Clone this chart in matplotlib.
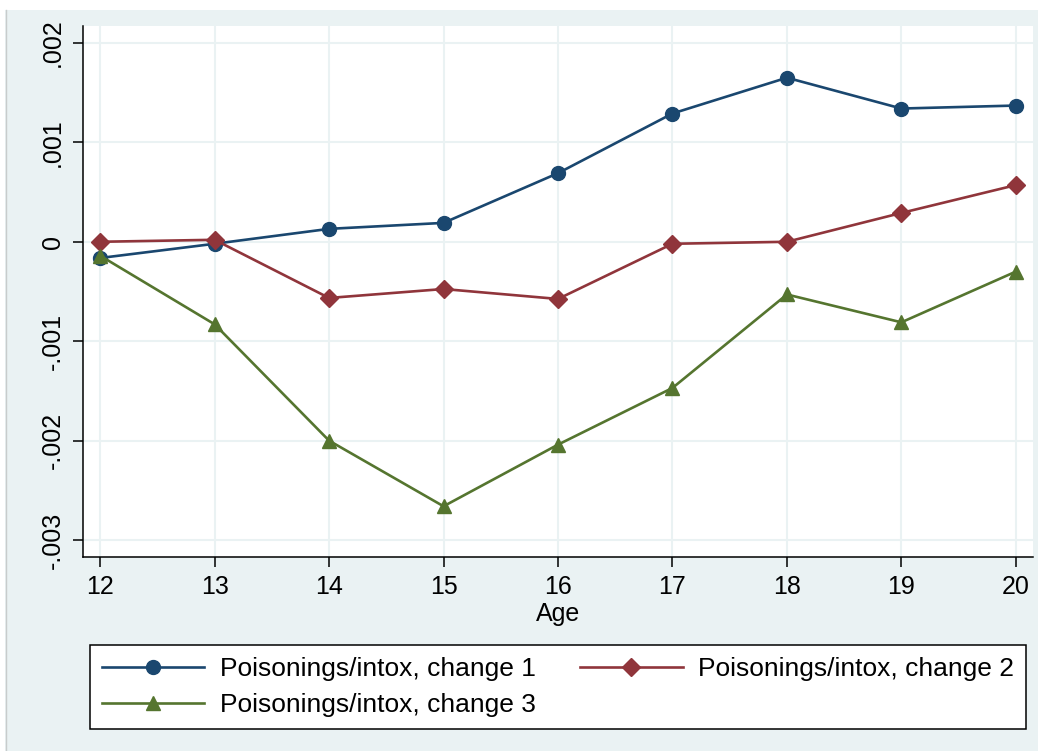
import numpy as np
import matplotlib.pyplot as plt
from matplotlib.patches import Rectangle

plt.rcParams['font.family'] = ['Liberation Sans', 'DejaVu Sans']

ages = [12, 13, 14, 15, 16, 17, 18, 19, 20]
change1 = [-0.000163, -0.00002, 0.00013, 0.00019, 0.00069, 0.00129, 0.00165, 0.00134, 0.00137]
change2 = [0.0, 0.00002, -0.000565, -0.000475, -0.000575, -0.00002, 0.0, 0.00029, 0.00057]
change3 = [-0.00014, -0.00083, -0.0020, -0.00266, -0.00204, -0.00147, -0.00053, -0.00081, -0.00030]
labels = ['Poisonings/intox, change 1', 'Poisonings/intox, change 2', 'Poisonings/intox, change 3']
yticks = [-0.003, -0.002, -0.001, 0, 0.001, 0.002]
ytick_labels = ['-.003', '-.002', '-.001', '0', '.001', '.002']

bg = '#eaf2f3'
W, H = 1038, 751
fig = plt.figure(figsize=(W / 100, H / 100), dpi=100, facecolor='white')
fig.patches.append(Rectangle((5 / W, 0), 1 - 5 / W, 1 - 10 / H, transform=fig.transFigure,
                             facecolor=bg, edgecolor='none', zorder=-10))
fig.lines.append(plt.Line2D([5.5 / W, 5.5 / W], [0, 1 - 10 / H], transform=fig.transFigure,
                            color='#c8cccc', lw=1, zorder=-9))

ax = fig.add_axes([83 / W, 1 - 557 / H, (1033 - 83) / W, (557 - 26) / H])
ax.set_facecolor('white')

ax.plot(ages, change1, color='#1a476f', marker='o', markersize=10, lw=1.9, label=labels[0])
ax.plot(ages, change2, color='#90353b', marker='D', markersize=9, lw=1.9, label=labels[1])
ax.plot(ages, change3, color='#55752f', marker='^', markersize=10, lw=1.9, label=labels[2])

ax.set_xlim(11.85, 20.15)
ax.set_ylim(-0.00317, 0.00217)
ax.set_xticks(ages)
ax.set_yticks(yticks)
ax.set_yticklabels(ytick_labels, rotation=90, va='center')
ax.tick_params(axis='both', labelsize=18, length=7, width=1.1, colors='black', pad=6)
ax.grid(True, color=bg, lw=1.5)
ax.set_axisbelow(True)
for s in ['top', 'right']:
    ax.spines[s].set_visible(False)
for s in ['left', 'bottom']:
    ax.spines[s].set_linewidth(1.1)
ax.set_xlabel('Age', fontsize=18, labelpad=2)

h, l = ax.get_legend_handles_labels()
order = [0, 2, 1]
leg = fig.legend([h[i] for i in order], [l[i] for i in order], ncol=2,
                 loc='center', bbox_to_anchor=(558 / W, 1 - 687 / H), fontsize=19,
                 frameon=True, fancybox=False, edgecolor='black', framealpha=1,
                 handlelength=3.9, handletextpad=0.6, columnspacing=1.65,
                 labelspacing=0.45, borderpad=0.45)
leg.get_frame().set_linewidth(1.1)

fig.savefig('out.png', dpi=100, facecolor=fig.get_facecolor())
